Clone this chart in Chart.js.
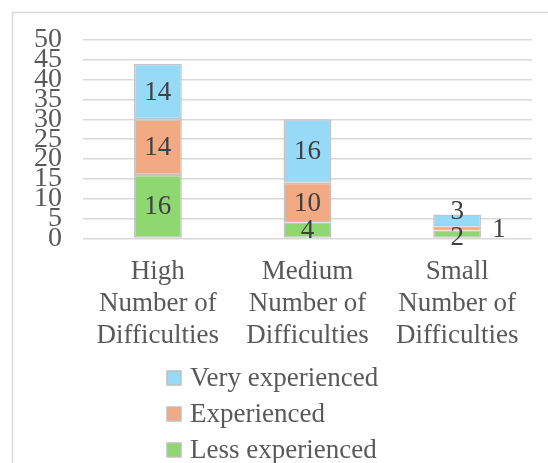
<!DOCTYPE html>
<html>
<head>
<meta charset="utf-8">
<script src="https://cdn.jsdelivr.net/npm/chart.js@4/dist/chart.umd.min.js"></script>
<style>
  html, body { margin: 0; padding: 0; background: #fff; }
  #wrap { position: relative; width: 548px; height: 463px; }
</style>
</head>
<body>
<div id="wrap"><canvas id="chart" width="548" height="463"></canvas></div>
<script>
// --- DATA ---
const categories = [
    ['High', 'Number of', 'Difficulties'],
    ['Medium', 'Number of', 'Difficulties'],
    ['Small', 'Number of', 'Difficulties']
];
const lessExperienced = [16, 4, 2];
const experienced = [14, 10, 1];
const veryExperienced = [14, 16, 3];
const yTicks = [0, 5, 10, 15, 20, 25, 30, 35, 40, 45, 50];

const FONT = '"Liberation Serif", "Times New Roman", serif';
const colors = {
    less: '#8fd871',
    exp: '#f1aa84',
    very: '#97daf7'
};

// outer frame of the chart object
const framePlugin = {
    id: 'frame',
    beforeDraw(chart) {
        const ctx = chart.ctx;
        ctx.save();
        ctx.strokeStyle = '#d9d9d9';
        ctx.lineWidth = 1.5;
        ctx.strokeRect(12.5, 12.5, 700, 700);
        ctx.restore();
    }
};

// value labels inside each segment
const valueLabels = {
    id: 'valueLabels',
    afterDatasetsDraw(chart) {
        const ctx = chart.ctx;
        const last = chart.data.datasets.length - 1;
        ctx.save();
        ctx.font = '27px ' + FONT;
        ctx.fillStyle = '#404040';
        ctx.textAlign = 'center';
        ctx.textBaseline = 'middle';
        chart.data.datasets.forEach((ds, di) => {
            chart.getDatasetMeta(di).data.forEach((bar, i) => {
                const h = Math.abs(bar.base - bar.y);
                let x = bar.x;
                let y = (bar.y + bar.base) / 2 + 1;
                // thin segments: push the label out of the way
                if (h < 15) {
                    if (di === 0) y = bar.base;
                    else if (di === last) y = bar.y - 3;
                    else x = bar.x + bar.width / 2 + 18;
                }
                ctx.fillText(String(ds.data[i]), x, y);
            });
        });
        ctx.restore();
    }
};

// vertical legend under the axis, top series first
const stackLegend = {
    id: 'stackLegend',
    afterDraw(chart) {
        const ctx = chart.ctx;
        const items = chart.data.datasets.slice().reverse();
        ctx.save();
        ctx.font = '27px ' + FONT;
        ctx.textBaseline = 'middle';
        ctx.textAlign = 'left';
        items.forEach((ds, i) => {
            const cy = 378 + i * 36;
            ctx.fillStyle = ds.backgroundColor;
            ctx.fillRect(167, cy - 7, 14, 14);
            ctx.strokeStyle = '#bfbfbf';
            ctx.lineWidth = 1.5;
            ctx.strokeRect(167, cy - 7, 14, 14);
            ctx.fillStyle = '#595959';
            ctx.fillText(ds.label, 190, cy + 1);
        });
        ctx.restore();
    }
};

const data = {
    labels: categories,
    datasets: [
        { label: 'Less experienced', data: lessExperienced, backgroundColor: colors.less },
        { label: 'Experienced', data: experienced, backgroundColor: colors.exp },
        { label: 'Very experienced', data: veryExperienced, backgroundColor: colors.very }
    ].map(d => Object.assign(d, {
        borderColor: '#c4c4c4',
        borderWidth: 1.5,
        borderSkipped: false,
        categoryPercentage: 1,
        barPercentage: 0.32
    }))
};

new Chart(document.getElementById('chart'), {
    type: 'bar',
    data: data,
    options: {
        responsive: false,
        animation: false,
        layout: { padding: { left: 13, right: 16, top: 40, bottom: 93 } },
        plugins: {
            legend: { display: false },
            tooltip: { enabled: false }
        },
        scales: {
            x: {
                stacked: true,
                grid: { display: false, drawTicks: false },
                border: { display: false },
                ticks: {
                    color: '#595959',
                    font: { family: FONT, size: 27, lineHeight: 1.18 },
                    padding: 18,
                    maxRotation: 0,
                    autoSkip: false
                }
            },
            y: {
                stacked: true,
                min: 0,
                max: 50,
                afterBuildTicks(scale) {
                    scale.ticks = yTicks.map(v => ({ value: v }));
                },
                grid: { color: '#d9d9d9', lineWidth: 1.5, drawTicks: false },
                border: { display: false },
                ticks: {
                    color: '#595959',
                    font: { family: FONT, size: 28 },
                    padding: 21,
                    autoSkip: false
                }
            }
        }
    },
    plugins: [framePlugin, valueLabels, stackLegend]
});
</script>
</body>
</html>
